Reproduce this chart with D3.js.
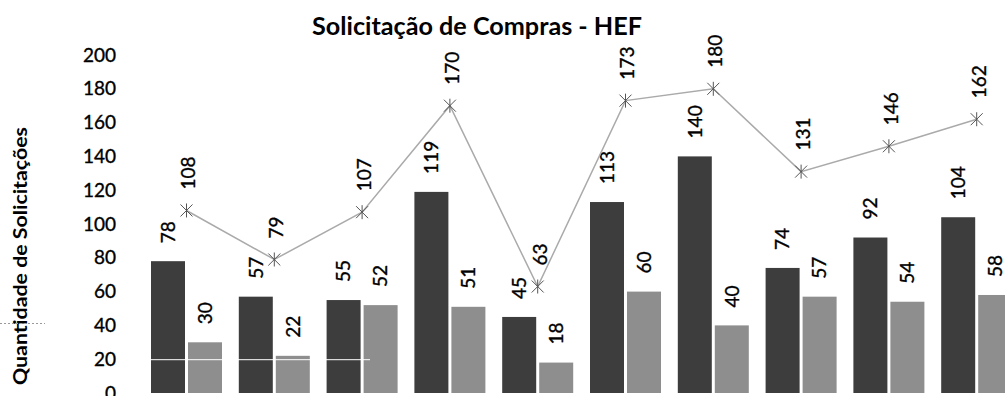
<!DOCTYPE html>
<html><head><meta charset="utf-8">
<script src="https://cdn.jsdelivr.net/npm/d3@7"></script>
<style>html,body{margin:0;padding:0;background:#fff;overflow:hidden}</style>
</head><body>
<script>
const categories = ["P1","P2","P3","P4","P5","P6","P7","P8","P9","P10"];
const seriesA = [78,57,55,119,45,113,140,74,92,104];
const seriesB = [30,22,52,51,18,60,40,57,54,58];
const totals = [108,79,107,170,63,173,180,131,146,162];
const yTicks = [0,20,40,60,80,100,120,140,160,180,200];
const title = "Solicitação de Compras - HEF";
const yTitle = "Quantidade de Solicitações";

const W = 1005, H = 396;
const svg = d3.select("body").append("svg").attr("width", W).attr("height", H)
  .style("font-family", "Lato, 'Liberation Sans', sans-serif");

const y = d3.scaleLinear().domain([0,200]).range([393,55]);
const x0 = d3.scaleBand().domain(categories).range([142.6, 1020.6]).padding(0);
const x1 = d3.scaleBand().domain(["a","b"]).range([8.4, 79.4]).paddingInner(3/37).paddingOuter(0);

// title
svg.append("text").attr("x", 477).attr("y", 35).attr("text-anchor","middle")
  .attr("font-weight","bold").attr("font-size", 25).attr("fill","#000")
  .attr("textLength", 330).attr("lengthAdjust","spacingAndGlyphs").text(title);

// y title
svg.append("text").attr("transform","translate(27,256) rotate(-90)")
  .attr("text-anchor","middle").attr("font-weight","bold").attr("font-size",19)
  .attr("textLength",258).attr("lengthAdjust","spacingAndGlyphs").attr("fill","#000").text(yTitle);

// stray dotted line
svg.append("line").attr("x1",0).attr("x2",45).attr("y1",323.5).attr("y2",323.5)
  .attr("stroke","#999").attr("stroke-width",1).attr("stroke-dasharray","2,2");

// y axis (labels only)
const yAxis = d3.axisLeft(y).tickValues(yTicks).tickSize(0).tickPadding(0);
const gy = svg.append("g").attr("transform","translate(116,0)").call(yAxis);
gy.select(".domain").remove();
gy.selectAll("text").attr("font-size",19).attr("font-family","Lato, 'Liberation Sans', sans-serif")
  .attr("fill","#000").attr("stroke","#000").attr("stroke-width",0.35);

// bars
const groups = svg.append("g").selectAll("g").data(categories).join("g")
  .attr("transform", d => `translate(${x0(d)},0)`);
groups.append("rect").attr("x", x1("a")).attr("width", x1.bandwidth())
  .attr("y", (d,i) => y(seriesA[i])).attr("height", (d,i) => y(0) - y(seriesA[i])).attr("fill","#3d3d3d");
groups.append("rect").attr("x", x1("b")).attr("width", x1.bandwidth())
  .attr("y", (d,i) => y(seriesB[i])).attr("height", (d,i) => y(0) - y(seriesB[i])).attr("fill","#8e8e8e");

// white artifact line
svg.append("line").attr("x1",140).attr("x2",370).attr("y1",y(20)+0.5).attr("y2",y(20)+0.5)
  .attr("stroke","#fff").attr("stroke-width",1);

// bar labels
function vlabel(g, xx, yy, txt) {
  g.append("text").attr("transform", `translate(${xx},${yy}) rotate(-90)`)
    .attr("text-anchor","start").attr("dy","0.36em").attr("font-size",19)
    .attr("fill","#000").attr("stroke","#000").attr("stroke-width",0.35).text(txt);
}
const lab = svg.append("g");
categories.forEach((c,i) => {
  vlabel(lab, x0(c)+x1("a")+x1.bandwidth()/2, y(seriesA[i]) - 18, seriesA[i]);
  vlabel(lab, x0(c)+x1("b")+x1.bandwidth()/2, y(seriesB[i]) - 18, seriesB[i]);
});

// line
const cx = c => x0(c) + x0.bandwidth()/2;
const line = d3.line().x((d,i) => cx(categories[i])).y(d => y(d));
svg.append("path").datum(totals).attr("d", line).attr("fill","none")
  .attr("stroke","#aaaaaa").attr("stroke-width",1.5);
const s = 6;
const mk = svg.append("g").selectAll("g").data(totals).join("g")
  .attr("transform",(d,i) => `translate(${cx(categories[i])},${y(d)})`)
  .attr("stroke","#555").attr("stroke-width",1);
mk.append("path").attr("d", `M${-s},${-s}L${s},${s}M${-s},${s}L${s},${-s}M0,${-s-1}L0,${s+1}`);
categories.forEach((c,i) => {
  vlabel(lab, cx(c)+2, y(totals[i]) - 21, totals[i]);
});
</script>
</body></html>
